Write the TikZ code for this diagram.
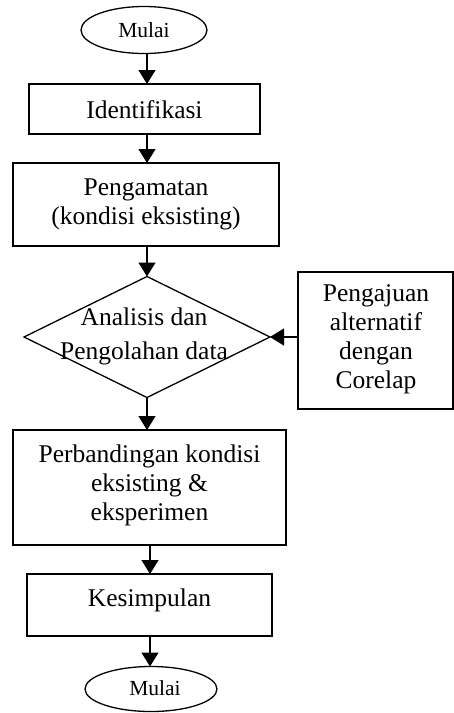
\documentclass[tikz,border=0pt]{standalone}
\usepackage{fontspec}
\setmainfont{Liberation Serif}
\usetikzlibrary{shapes.geometric,arrows.meta}
\begin{document}
\begin{tikzpicture}[x=1pt,y=-1pt,
  every node/.style={inner sep=0pt, outer sep=0pt},
  txt/.style={font=\fontsize{25.5}{29}\selectfont, align=center},
  smalltxt/.style={font=\fontsize{21.5}{25}\selectfont},
  box/.style={draw, line width=1.3pt, rectangle},
  term/.style={draw, line width=1.3pt, ellipse},
  dec/.style={draw, line width=1.3pt, diamond},
  arr/.style={line width=1.3pt, -{Triangle[length=14pt,width=17pt]}}]
\useasboundingbox (0,0) rectangle (454,713);
% terminals
\node[term, minimum width=126pt, minimum height=47pt, smalltxt] (start) at (144,30) {Mulai};
\node[term, minimum width=132pt, minimum height=45pt] (stop) at (151,689) {};
\node[smalltxt] (stoptxt) at (155,688) {Mulai};
% boxes
\node[box, minimum width=231pt, minimum height=50pt] (ident) at (144.5,109) {};
\node[txt] (identtxt) at (144.5,110) {Identifikasi};
\node[box, minimum width=266pt, minimum height=83pt] (peng) at (146,204.5) {};
\node[txt] (pengtxt) at (146,204) {Pengamatan\\(kondisi eksisting)};
\node[dec, minimum width=246pt, minimum height=121pt] (dia) at (147,337) {};
\node[txt, font=\fontsize{25.5}{34}\selectfont] (diatxt) at (144,336) {Analisis dan\\Pengolahan data};
\node[box, minimum width=155pt, minimum height=137pt] (alt) at (375.5,340.5) {};
\node[txt] (alttxt) at (376,339) {Pengajuan\\alternatif\\dengan\\Corelap};
\node[box, minimum width=273pt, minimum height=115pt] (perb) at (149.5,487.5) {};
\node[txt] (perbtxt) at (149.5,485) {Perbandingan kondisi\\eksisting \&\\eksperimen};
\node[box, minimum width=245pt, minimum height=62pt] (kes) at (149.5,605) {};
\node[txt] (kestxt) at (149.5,600) {Kesimpulan};
% connectors
\draw[arr] (start.south -| 147,0) -- (ident.north -| 147,0);
\draw[arr] (ident.south -| 147,0) -- (peng.north -| 147,0);
\draw[arr] (peng.south -| 147,0) -- (dia.north);
\draw[arr] (alt.west |- dia.east) -- (dia.east);
\draw[arr] (dia.south) -- (perb.north -| dia.south);
\draw[arr] (perb.south -| 150,0) -- (kes.north -| 150,0);
\draw[arr] (kes.south -| 150,0) -- (stop.north -| 150,0);
\end{tikzpicture}
\end{document}
